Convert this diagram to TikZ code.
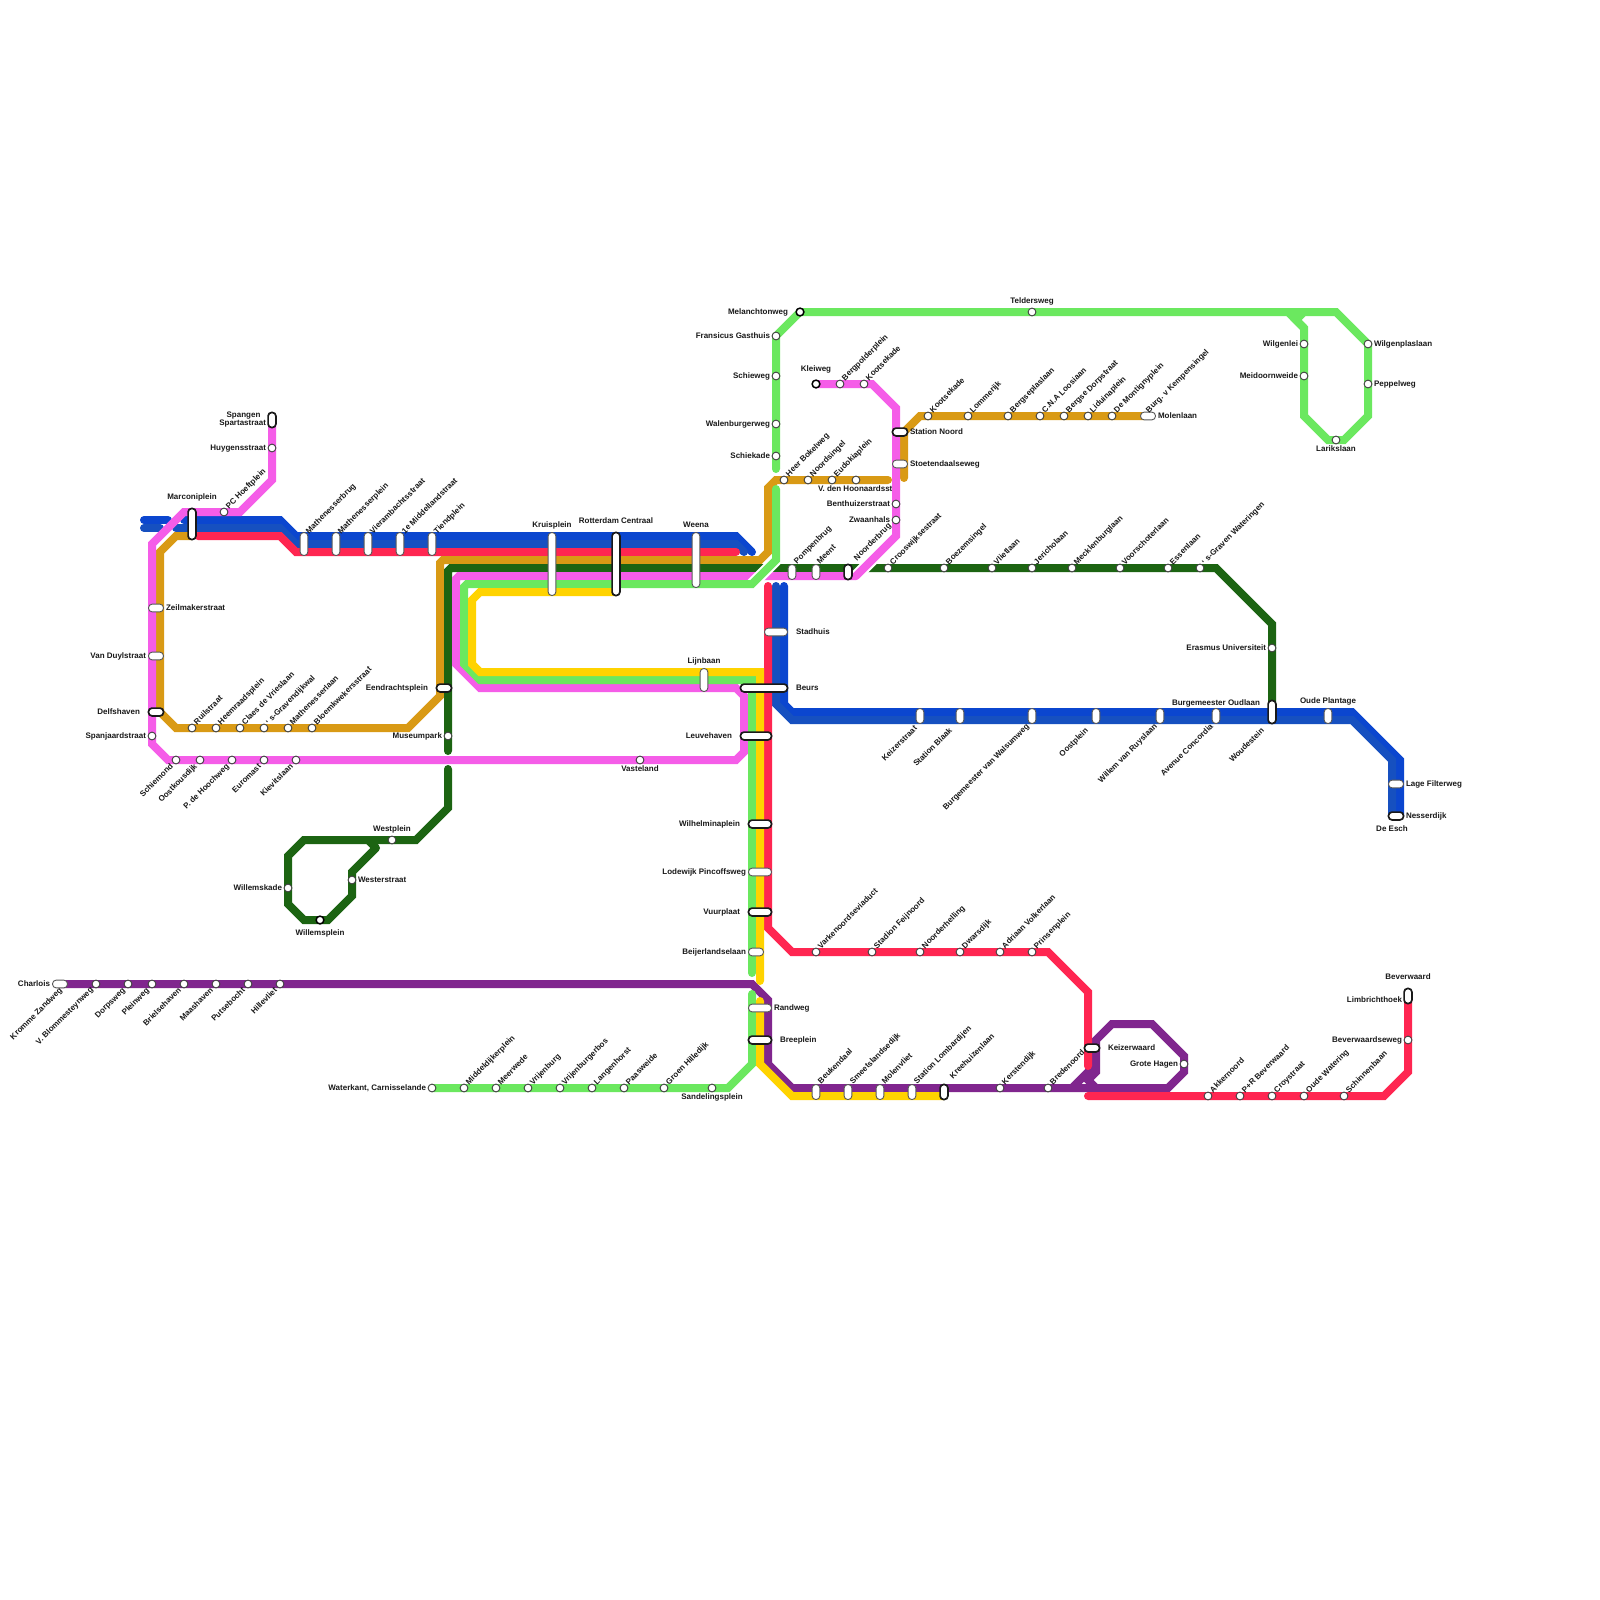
\documentclass[tikz,border=0pt]{standalone}
\usepackage{fontspec}
\setmainfont{Liberation Sans}
\definecolor{cBlueA}{HTML}{0B46CF}
\definecolor{cBlueB}{HTML}{1650C0}
\definecolor{cRed}{HTML}{FF2651}
\definecolor{cGold}{HTML}{D99A15}
\definecolor{cDark}{HTML}{1C6412}
\definecolor{cPink}{HTML}{F55DE8}
\definecolor{cLime}{HTML}{6BE85F}
\definecolor{cYell}{HTML}{FFD300}
\definecolor{cPurp}{HTML}{80268E}
\tikzset{
  rail/.style={line width=8pt,line cap=round,line join=miter,miter limit=4},
  casing/.style={line width=12pt,white,line cap=butt},
  stc/.style={circle,draw=black!75,fill=white,line width=0.9pt,minimum size=7.8pt,inner sep=0pt,outer sep=0pt},
  stk/.style={circle,draw=black,fill=white,line width=1.5pt,minimum size=7.8pt,inner sep=0pt,outer sep=0pt},
  capt/.style={rectangle,rounded corners=3.7pt,draw=black!65,fill=white,line width=0.9pt,inner sep=0pt,outer sep=0pt},
  capk/.style={rectangle,rounded corners=3.5pt,draw=black!90,fill=white,line width=1.7pt,inner sep=0pt,outer sep=0pt},
  lab/.style={font=\fontsize{8}{9.6}\selectfont\bfseries,text=black!90,inner sep=0pt,outer sep=0pt,text height=6pt,text depth=1.7pt}
}
\newcounter{lblc}
\newcommand{\LbE}[3]{\stepcounter{lblc}\node[lab,anchor=east] (l\thelblc) at (#1,#2+1) {#3};}
\newcommand{\LbW}[3]{\stepcounter{lblc}\node[lab,anchor=west] (l\thelblc) at (#1,#2+1) {#3};}
\newcommand{\LbC}[3]{\stepcounter{lblc}\node[lab,anchor=center] (l\thelblc) at (#1,#2) {#3};}
\newcommand{\RotU}[3]{\stepcounter{lblc}\node[lab,anchor=west,rotate=45] (l\thelblc) at (#1+3.5,#2-4.5) {#3};}
\newcommand{\RotD}[3]{\stepcounter{lblc}\node[lab,anchor=east,rotate=45] (l\thelblc) at (#1-4,#2+5.5) {#3};}
\newcommand{\SC}[3]{\node[stc] (#1) at (#2,#3) {};}
\newcommand{\SK}[3]{\node[stk] (#1) at (#2,#3) {};}
% horizontal / vertical capsules: style, name, x, y, outer length
\newcommand{\HC}[5]{\node[#1,minimum width={(#5-1)*1pt},minimum height=7.8pt] (#2) at (#3,#4) {};}
\newcommand{\VC}[5]{\node[#1,minimum height={(#5-1)*1pt},minimum width=7.8pt] (#2) at (#3,#4) {};}
\begin{document}
\begin{tikzpicture}[x=1pt,y=-1pt]
\useasboundingbox (0,0) rectangle (1600,1600);
\fill[white] (0,0) rectangle (1600,1600);
% label that the pink line covers
\LbW{818}{488}{V. den Hoonaardsstr}
% --- blue
\draw[rail,cBlueA] (144,520)--(168,520);
\draw[rail,cBlueB] (144,528)--(160,528);
\draw[rail,cBlueA] (184,520)--(280,520)--(296,536)--(736,536)--(752,552);
\draw[rail,cBlueB] (176,528)--(280,528)--(296,544)--(736,544)--(744,552);
\draw[rail,cBlueA] (784,586)--(784,704)--(792,712)--(1352,712)--(1400,760)--(1400,816);
\draw[rail,cBlueB] (776,586)--(776,704)--(792,720)--(1352,720)--(1392,760)--(1392,816);
% --- red
\draw[rail,cRed] (198,536)--(280,536)--(296,552)--(736,552);
% --- purple
\draw[rail,cPurp,line cap=butt] (60,984)--(752,984)--(768,1000)--(768,1064)--(792,1088)--(1168,1088)--(1184,1072)--(1184,1056)--(1152,1024)--(1112,1024)--(1096,1040)--(1096,1072)--(1088,1080)--(1096,1088);
\draw[rail,cPurp,line cap=butt] (1072,1088)--(1096,1064);
% --- red continued
\draw[rail,cRed] (768,586)--(768,928)--(792,952)--(1048,952)--(1088,992)--(1088,1066);
\draw[rail,cRed] (1088,1096)--(1384,1096)--(1408,1072)--(1408,996);
% --- gold
\draw[rail,cGold] (192,536)--(176,536)--(160,552)--(160,712)--(176,728)--(408,728)--(440,696)--(440,563)--(443,560)--(760,560)--(768,552)--(768,488)--(776,480)--(888,480);
\draw[rail,cGold] (904,478)--(904,432)--(920,416)--(1144,416);
% --- dark green
\draw[rail,cDark] (448,751)--(448,571)--(451,568)--(1216,568)--(1272,624)--(1272,712);
\draw[rail,cDark] (448,769)--(448,808)--(416,840)--(304,840)--(288,856)--(288,904)--(304,920)--(328,920)--(352,896)--(352,872)--(376,848);
\draw[rail,cDark,line cap=butt] (376,848)--(368,840);
% --- pink
\draw[rail,cPink] (272,420)--(272,480)--(240,512)--(184,512)--(152,544)--(152,744)--(168,760)--(736,760)--(744,752)--(744,696)--(736,688)--(480,688)--(456,664)--(456,579)--(459,576)--(856,576);
\draw[casing] (856,576)--(896,536);
\draw[rail,cPink] (816,384)--(872,384)--(896,408)--(896,536)--(856,576);
% --- lime
\draw[casing] (776,560)--(752,584);
\draw[rail,cLime] (776,489)--(776,560)--(752,584)--(467,584)--(464,587)--(464,664)--(480,680)--(752,680)--(752,973);
\draw[rail,cLime] (752,994)--(752,1064)--(728,1088)--(432,1088);
\draw[rail,cLime] (776,469)--(776,336)--(800,312)--(1336,312)--(1368,344)--(1368,416)--(1344,440)--(1328,440)--(1304,416)--(1304,328)--(1296,320)--(1304,312);
\draw[rail,cLime,line cap=butt] (1288,312)--(1304,328);
% --- yellow
\draw[rail,cYell] (616,592)--(480,592)--(472,600)--(472,664)--(480,672)--(760,672)--(760,981);
\draw[rail,cYell] (760,1001)--(760,1064)--(792,1096)--(944,1096);
% --- stations
\VC{capk}{spangen}{272}{420}{16}
\SC{huyg}{272}{448}
\SC{pchoeft}{224}{512}
\VC{capk}{marconi}{192}{524}{32}
\VC{capt}{mbrug}{304}{544}{24}
\VC{capt}{mplein}{336}{544}{24}
\VC{capt}{vier}{368}{544}{24}
\VC{capt}{midd}{400}{544}{24}
\VC{capt}{tiend}{432}{544}{24}
\HC{capt}{zeil}{156}{608}{16}
\HC{capt}{duyl}{156}{656}{16}
\HC{capk}{delfs}{156}{712}{16}
\SC{spanj}{152}{736}
\SC{ruil}{192}{728}
\SC{heem}{216}{728}
\SC{claes}{240}{728}
\SC{grav}{264}{728}
\SC{mlaan}{288}{728}
\SC{bloem}{312}{728}
\SC{schie}{176}{760}
\SC{oost}{200}{760}
\SC{hooch}{232}{760}
\SC{eurom}{264}{760}
\SC{kiev}{296}{760}
\HC{capk}{eend}{444}{688}{16}
\SC{musm}{448}{736}
\VC{capt}{kruis}{552}{564}{64}
\VC{capk}{cs}{616}{564}{64}
\VC{capt}{weena}{696}{560}{56}
\VC{capt}{lijn}{704}{680}{24}
\HC{capt}{stad}{776}{632}{24}
\HC{capk}{beurs}{764}{688}{48}
\HC{capk}{leuve}{756}{736}{32}
\SC{vast}{640}{760}
\SK{melan}{800}{312}
\SC{teld}{1032}{312}
\SC{frans}{776}{336}
\SC{schw}{776}{376}
\SC{walen}{776}{424}
\SC{skade}{776}{456}
\SC{heer}{784}{480}
\SC{noords}{808}{480}
\SC{eudo}{832}{480}
\SC{hoon}{856}{480}
\SK{klei}{816}{384}
\SC{bergp}{840}{384}
\SC{koota}{864}{384}
\SC{kootb}{928}{416}
\SC{lomm}{968}{416}
\SC{bergs}{1008}{416}
\SC{cna}{1040}{416}
\SC{bdorp}{1064}{416}
\SC{lidu}{1088}{416}
\SC{mont}{1112}{416}
\HC{capt}{burgv}{1148}{416}{16}
\HC{capk}{snoord}{900}{432}{16}
\HC{capt}{stoet}{900}{464}{16}
\SC{benth}{896}{504}
\SC{zwaan}{896}{520}
\VC{capt}{pomp}{792}{572}{16}
\VC{capt}{meent}{816}{572}{16}
\VC{capk}{noordb}{848}{572}{16}
\SC{croos}{888}{568}
\SC{boez}{944}{568}
\SC{vliet}{992}{568}
\SC{jeri}{1032}{568}
\SC{meck}{1072}{568}
\SC{voor}{1120}{568}
\SC{essen}{1168}{568}
\SC{sgrav}{1200}{568}
\VC{capt}{keiz}{920}{716}{16}
\VC{capt}{blaak}{960}{716}{16}
\VC{capt}{walsum}{1032}{716}{16}
\VC{capt}{oostp}{1096}{716}{16}
\VC{capt}{ruys}{1160}{716}{16}
\VC{capt}{conc}{1216}{716}{16}
\VC{capk}{woude}{1272}{712}{24}
\VC{capt}{plant}{1328}{716}{16}
\SC{erasm}{1272}{648}
\HC{capt}{lage}{1396}{784}{16}
\HC{capk}{ness}{1396}{816}{16}
\SC{wlei}{1304}{344}
\SC{meid}{1304}{376}
\SC{wplas}{1368}{344}
\SC{pepp}{1368}{384}
\SC{lark}{1336}{440}
\HC{capt}{charl}{60}{984}{16}
\SC{blomm}{96}{984}
\SC{dorps}{128}{984}
\SC{plein}{152}{984}
\SC{briel}{184}{984}
\SC{maas}{216}{984}
\SC{putse}{248}{984}
\SC{hille}{280}{984}
\SC{westp}{392}{840}
\SC{wests}{352}{880}
\SC{wkade}{288}{888}
\SK{wplein}{320}{920}
\HC{capk}{wilh}{760}{824}{24}
\HC{capt}{lode}{760}{872}{24}
\HC{capk}{vuur}{760}{912}{24}
\HC{capt}{beij}{756}{952}{16}
\HC{capt}{rand}{760}{1008}{24}
\HC{capk}{bree}{760}{1040}{24}
\VC{capt}{beuk}{816}{1092}{16}
\VC{capt}{smeet}{848}{1092}{16}
\VC{capt}{molv}{880}{1092}{16}
\VC{capt}{lomb}{912}{1092}{16}
\VC{capk}{kree}{944}{1092}{16}
\SC{vark}{816}{952}
\SC{feij}{872}{952}
\SC{nhel}{920}{952}
\SC{dwars}{960}{952}
\SC{volk}{1000}{952}
\SC{prins}{1032}{952}
\SC{kers}{1000}{1088}
\SC{bred}{1048}{1088}
\HC{capk}{kwaard}{1092}{1048}{16}
\SC{grote}{1184}{1064}
\SC{akke}{1208}{1096}
\SC{prb}{1240}{1096}
\SC{croy}{1272}{1096}
\SC{owat}{1304}{1096}
\SC{schin}{1344}{1096}
\VC{capk}{limb}{1408}{996}{16}
\SC{bwseweg}{1408}{1040}
\SC{wkant}{432}{1088}
\SC{middel}{464}{1088}
\SC{meerw}{496}{1088}
\SC{vrij}{528}{1088}
\SC{vrijb}{560}{1088}
\SC{lang}{592}{1088}
\SC{paas}{624}{1088}
\SC{groen}{664}{1088}
\SC{sand}{712}{1088}
% --- labels
\LbC{243.5}{415}{Spangen}
\LbE{266}{422}{Spartastraat}
\LbE{266}{447}{Huygensstraat}
\RotU{224}{512}{PC Hoeftplein}
\LbC{192}{497}{Marconiplein}
\RotU{304}{537}{Mathenesserbrug}
\RotU{336}{537}{Mathenesserplein}
\RotU{368}{537}{Vierambachtsstraat}
\RotU{400}{537}{1e Middellandstraat}
\RotU{432}{537}{Tiendplein}
\LbW{166}{607}{Zeilmakerstraat}
\LbE{146}{655}{Van Duylstraat}
\LbE{140}{711}{Delfshaven}
\LbE{146}{735}{Spanjaardstraat}
\RotU{192}{728}{Ruilstraat}
\RotU{216}{728}{Heemraadsplein}
\RotU{240}{728}{Claes de Vrieslaan}
\RotU{264}{728}{` s-Gravendijkwal}
\RotU{288}{728}{Mathenesserlaan}
\RotU{312}{728}{Bloemkwekersstraat}
\RotD{176}{760}{Schiemond}
\RotD{200}{760}{Oostkousdijk}
\RotD{232}{760}{P. de Hoochweg}
\RotD{264}{760}{Euromast}
\RotD{296}{760}{Kievitslaan}
\LbE{428}{687}{Eendrachtsplein}
\LbE{442}{735}{Museumpark}
\LbC{552}{525}{Kruisplein}
\LbC{616}{521}{Rotterdam Centraal}
\LbC{696}{525}{Weena}
\LbC{704}{661}{Lijnbaan}
\LbW{796}{631}{Stadhuis}
\LbW{796}{687}{Beurs}
\LbE{732}{735}{Leuvehaven}
\LbC{640}{769}{Vasteland}
\LbE{788}{311}{Melanchtonweg}
\LbC{1032}{301}{Teldersweg}
\LbE{770}{335}{Fransicus Gasthuis}
\LbE{770}{375}{Schieweg}
\LbE{770}{423}{Walenburgerweg}
\LbE{770}{455}{Schiekade}
\RotU{784}{480}{Heer Bokelweg}
\RotU{808}{480}{Noordsingel}
\RotU{832}{480}{Eudokiaplein}
\LbC{816}{369}{Kleiweg}
\RotU{840}{384}{Bergpolderplein}
\RotU{864}{384}{Kootsekade}
\RotU{928}{416}{Kootsekade}
\RotU{968}{416}{Lommerijk}
\RotU{1008}{416}{Bergseplaslaan}
\RotU{1040}{416}{C.N.A Loosiaan}
\RotU{1064}{416}{Bergse Dorpstraat}
\RotU{1088}{416}{Liduinaplein}
\RotU{1112}{416}{De Montignyplein}
\RotU{1144}{416}{Burg. v Kempensingel}
\LbW{1158}{415}{Molenlaan}
\LbW{910}{431}{Station Noord}
\LbW{910}{463}{Stoetendaalseweg}
\LbE{890}{503}{Benthuizerstraat}
\LbE{890}{519}{Zwaanhals}
\RotU{792}{567}{Pompenbrug}
\RotU{815}{567}{Meent}
\RotU{852}{564}{Noorderbrug}
\RotU{888}{568}{Crooswijksestraat}
\RotU{944}{568}{Boezemsingel}
\RotU{992}{568}{Vlietlaan}
\RotU{1032}{568}{Jericholaan}
\RotU{1072}{568}{Mecklenburglaan}
\RotU{1120}{568}{Voorschoterlaan}
\RotU{1168}{568}{Essenlaan}
\RotU{1200}{568}{` s-Graven Wateringen}
\RotD{920}{722}{Keizerstraat}
\RotD{955}{724}{Station Blaak}
\RotD{1032}{720}{Burgemeester van Walsumweg}
\RotD{1091}{724}{Oostplein}
\RotD{1160}{720}{Willem van Ruyslaan}
\RotD{1216}{720}{Avenue Concordia}
\RotD{1267}{724}{Woudestein}
\LbC{1216}{703}{Burgemeester Oudlaan}
\LbC{1328}{701}{Oude Plantage}
\LbE{1266}{647}{Erasmus Universiteit}
\LbW{1406}{783}{Lage Filterweg}
\LbW{1406}{815}{Nesserdijk}
\LbC{1392}{829}{De Esch}
\LbE{1298}{343}{Wilgenlei}
\LbE{1298}{375}{Meidoornweide}
\LbW{1374}{343}{Wilgenplaslaan}
\LbW{1374}{383}{Peppelweg}
\LbC{1336}{449}{Larikslaan}
\LbE{50}{983}{Charlois}
\RotD{65}{984}{Kromme Zandweg}
\RotD{96}{983.5}{V. Blommesteynweg}
\RotD{128}{984}{Dorpsweg}
\RotD{152}{984}{Pleinweg}
\RotD{184}{984}{Brielsehaven}
\RotD{216}{984}{Maashaven}
\RotD{248}{984}{Putsebocht}
\RotD{280}{984}{Hillevliet}
\LbC{392}{829}{Westplein}
\LbW{358}{879}{Westerstraat}
\LbE{282}{887}{Willemskade}
\LbC{320}{933}{Willemsplein}
\LbE{740}{823}{Wilhelminaplein}
\LbE{746}{871}{Lodewijk Pincoffsweg}
\LbE{740}{911}{Vuurplaat}
\LbE{746}{951}{Beijerlandselaan}
\LbW{774}{1007}{Randweg}
\LbW{780}{1039}{Breeplein}
\RotU{816}{1087}{Beukendaal}
\RotU{848}{1087}{Smeetslandsedijk}
\RotU{880}{1087}{Molenvliet}
\RotU{912}{1087}{Station Lombardijen}
\RotU{948}{1082}{Kreehuizenlaan}
\RotU{816}{952}{Varkenoordseviaduct}
\RotU{872}{952}{Stadion Feijnoord}
\RotU{920}{952}{Noorderhelling}
\RotU{960}{952}{Dwarsdijk}
\RotU{1000}{952}{Adriaan Volkerlaan}
\RotU{1032}{952}{Prinsenplein}
\RotU{1000}{1088}{Kerstendijk}
\RotU{1048}{1088}{Bredenoord}
\LbW{1108}{1047}{Keizerwaard}
\LbE{1178}{1063}{Grote Hagen}
\RotU{1208}{1096}{Akkernoord}
\RotU{1240}{1096}{P+R Beverwaard}
\RotU{1272}{1096}{Croystraat}
\RotU{1304}{1096}{Oude Watering}
\RotU{1344}{1096}{Schinnenbaan}
\LbC{1408}{977}{Beverwaard}
\LbE{1402}{999}{Limbrichthoek}
\LbE{1402}{1039}{Beverwaardseweg}
\LbE{426}{1087}{Waterkant, Carnisselande}
\RotU{464}{1088}{Middeldijkerplein}
\RotU{496}{1088}{Meerwede}
\RotU{528}{1088}{Vrijenburg}
\RotU{560}{1088}{Vrijenburgerbos}
\RotU{592}{1088}{Langenhorst}
\RotU{624}{1088}{Paasweide}
\RotU{664}{1088}{Groen Hilledijk}
\LbC{712}{1097}{Sandelingsplein}
\end{tikzpicture}
\end{document}
